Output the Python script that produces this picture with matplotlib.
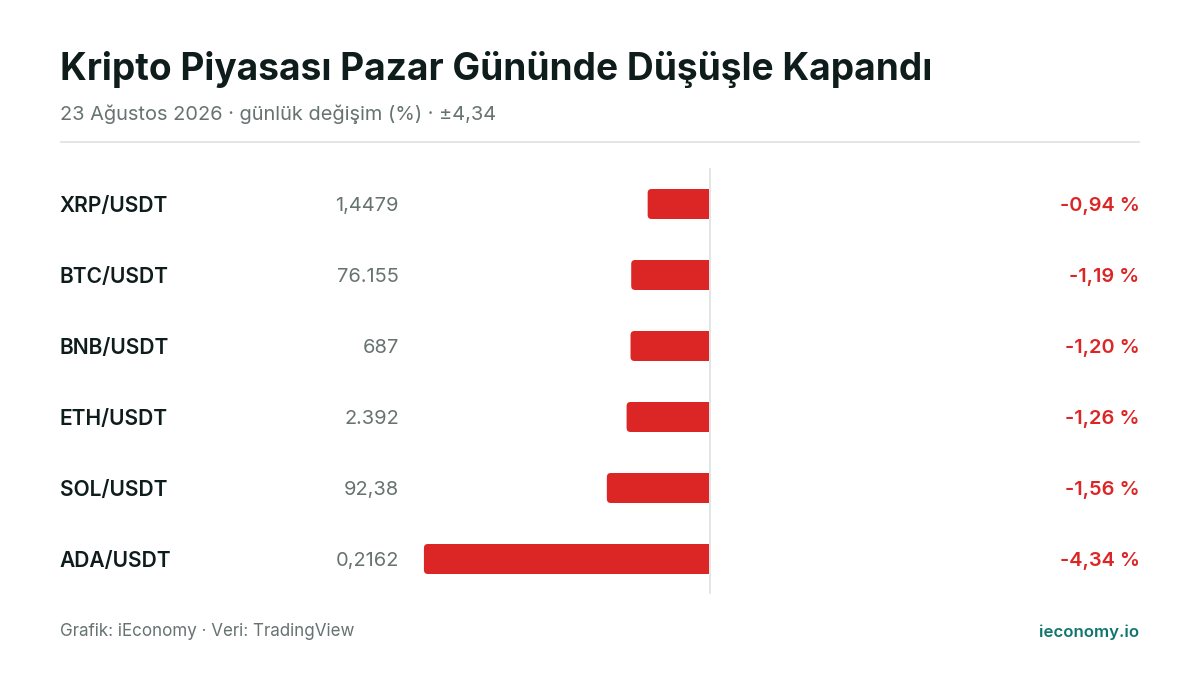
import matplotlib
matplotlib.use('Agg')
import matplotlib.pyplot as plt
from matplotlib.patches import PathPatch
from matplotlib.path import Path
from matplotlib.transforms import blended_transform_factory

pairs = ['XRP/USDT', 'BTC/USDT', 'BNB/USDT', 'ETH/USDT', 'SOL/USDT', 'ADA/USDT']
prices = ['1,4479', '76.155', '687', '2.392', '92,38', '0,2162']
changes = [-0.94, -1.19, -1.20, -1.26, -1.56, -4.34]

RED = '#dc2626'
INK = '#0f1c1c'
GREY = '#667371'
RULE = '#e2e6e6'
TEAL = '#0f766e'
W, H = 1200, 675

plt.rcParams['font.family'] = ['Inter', 'DejaVu Sans']
fig = plt.figure(figsize=(12, 6.75), dpi=100, facecolor='white')


def px(size):
    return size * 72 / 100


def fig_text(x, y, s, **kw):
    return fig.text(x / W, 1 - y / H, s, va='center', **kw)


# axes spans the rows, x scale is px per percent around the zero line at 709.5
ax = fig.add_axes([60 / W, 1 - 594.5 / H, 1080 / W, 426 / H])
scale = 65.8
ax.set_xlim((60 - 709.5) / scale, (1140 - 709.5) / scale)
ax.set_ylim(len(pairs) - 0.5, -0.5)
ax.axis('off')

bar_h = 30 / 71
rx = 4 / scale
ry = 4 / 71


def left_round_bar(val, y):
    t, b = y - bar_h / 2, y + bar_h / 2
    verts = [(0, t), (val + rx, t), (val, t), (val, t + ry), (val, b - ry),
             (val, b), (val + rx, b), (0, b), (0, t)]
    codes = [Path.MOVETO, Path.LINETO, Path.CURVE3, Path.CURVE3, Path.LINETO,
             Path.CURVE3, Path.CURVE3, Path.LINETO, Path.CLOSEPOLY]
    return Path(verts, codes)


lab = blended_transform_factory(fig.transFigure, ax.transData)
for i, (pair, price, val) in enumerate(zip(pairs, prices, changes)):
    ax.add_patch(PathPatch(left_round_bar(val, i), fc=RED, ec='none', zorder=2))
    ax.text(59.8 / W, i, pair, transform=lab, ha='left', va='center_baseline',
            fontsize=px(21), fontweight='semibold', color=INK)
    ax.text(399 / W, i, price, transform=lab, ha='right', va='center_baseline',
            fontsize=px(20), color=GREY)
    txt = f'{val:.2f}'.replace('.', ',') + ' %'
    ax.text(1139.5 / W, i, txt, transform=lab, ha='right', va='center_baseline',
            fontsize=px(20), fontweight='semibold', color=RED)

# zero line sits half a pixel above the rows, as in the source
ax.plot([0, 0], [-0.5 - 0.5 / 71, 5.5 - 0.5 / 71], color=RULE, lw=px(2), zorder=3,
        solid_capstyle='butt', clip_on=False)

fig_text(60, 69.5, 'Kripto Piyasası Pazar Gününde Düşüşle Kapandı', ha='left',
         fontsize=px(37.05), fontweight='bold', color=INK)
fig_text(60, 114, '23 Ağustos 2026 · günlük değişim (%) · ±4,34', ha='left',
         fontsize=px(20), color=GREY)
fig.add_artist(plt.Line2D([60 / W, 1140 / W], [1 - 142 / H] * 2, color=RULE, lw=px(2),
                          solid_capstyle='butt'))
fig_text(60, 632, 'Grafik: iEconomy · Veri: TradingView', ha='left',
         fontsize=px(17), color=GREY)
fig_text(1139, 632, 'ieconomy.io', ha='right',
         fontsize=px(16.8), fontweight='semibold', color=TEAL)

fig.savefig('out.png', dpi=100, facecolor='white')
